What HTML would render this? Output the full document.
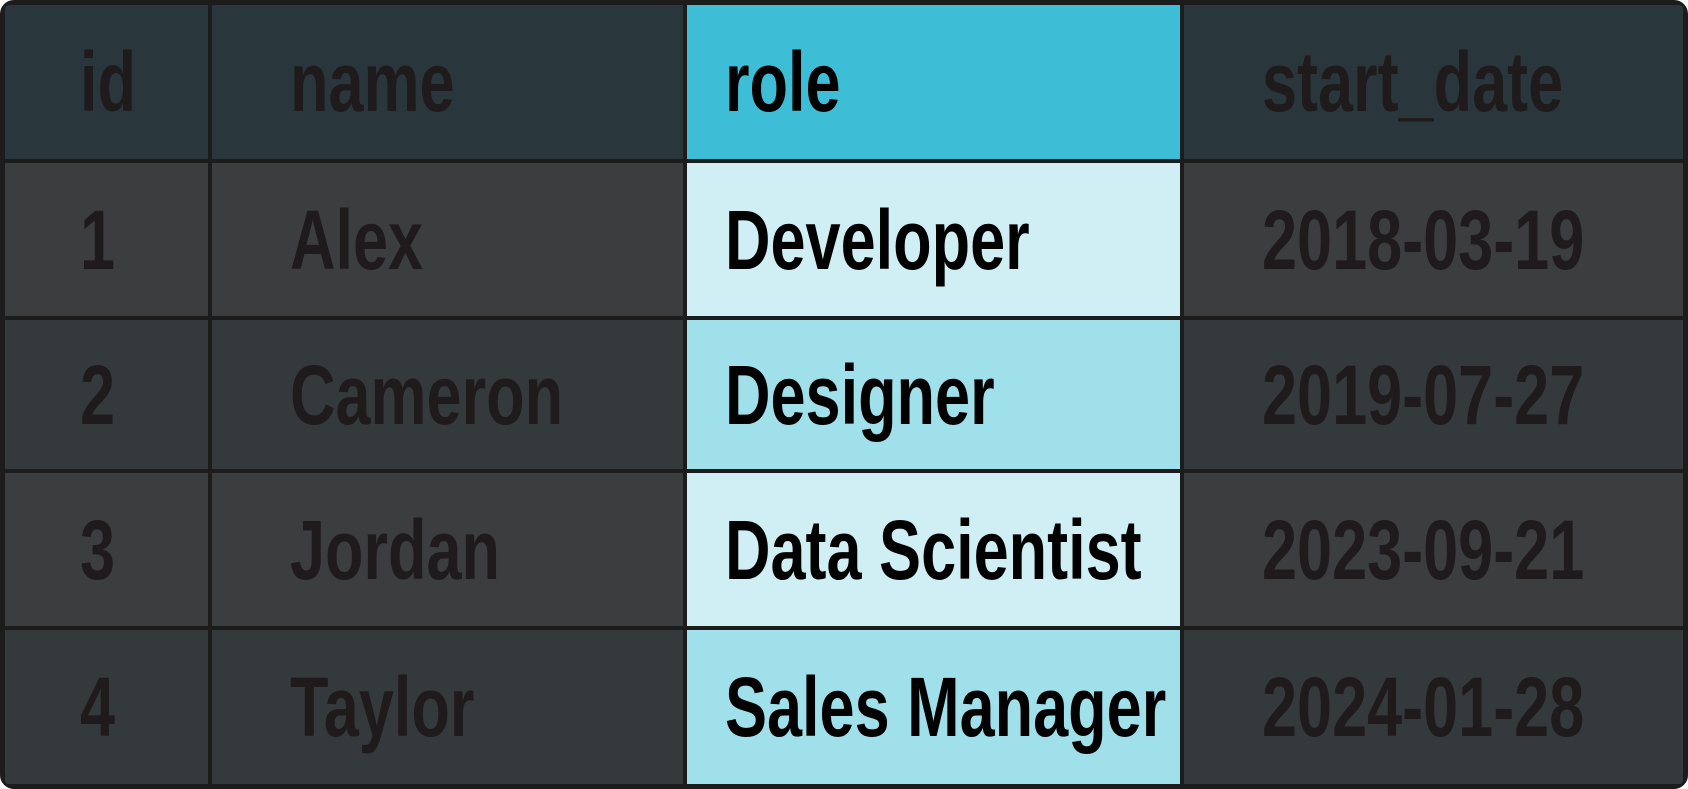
<!DOCTYPE html>
<html><head><meta charset="utf-8"><style>
html,body{margin:0;padding:0;width:1688px;height:789px;overflow:hidden;background:#fff}
#t{position:absolute;left:0;top:0;width:1682px;height:783px;border:3px solid #1c1c1c;border-radius:14px;overflow:hidden;background:#1c1c1c}
.c{position:absolute;box-sizing:border-box;border:2px solid #1c1c1c;overflow:hidden}
.c span{position:absolute;top:50%;font-family:"Liberation Sans",sans-serif;font-weight:bold;font-size:84px;line-height:1;transform-origin:0 50%;transform:translateY(-50%) scaleX(0.75);white-space:nowrap;color:#1f1a1c}
</style></head><body>
<div id="t"></div>
<script>
const headers=["id","name","role","start_date"];
const ids=["1","2","3","4"];
const names=["Alex","Cameron","Jordan","Taylor"];
const roles=["Developer","Designer","Data Scientist","Sales Manager"];
const dates=["2018-03-19","2019-07-27","2023-09-21","2024-01-28"];
const colX=[0,207,682,1179,1682];
const rowY=[0,158,315,468,625,783];
const textX=[75,78,38,78];
const t=document.getElementById('t');
function cell(r,c,txt){
  const d=document.createElement('div');
  d.className='c';
  
  
  d.style.left=colX[c]+'px';d.style.top=rowY[r]+'px';
  d.style.width=(colX[c+1]-colX[c])+'px';d.style.height=(rowY[r+1]-rowY[r])+'px';
  let bg;
  if(r==0) bg=c==2?'#3dbdd6':'#29373d';
  else if(c==2) bg=r%2?'#d0eff4':'#a0e0ea';
  else bg=r%2?'#3c3d3f':'#343a3c';
  d.style.background=bg;
  const s=document.createElement('span');
  s.textContent=txt;
  s.style.left=textX[c]+'px';
  if(c==2) s.style.color='#000';
  d.appendChild(s);t.appendChild(d);
}
headers.forEach((h,c)=>cell(0,c,h));
for(let i=0;i<4;i++){cell(i+1,0,ids[i]);cell(i+1,1,names[i]);cell(i+1,2,roles[i]);cell(i+1,3,dates[i]);}
</script>
</body></html>
